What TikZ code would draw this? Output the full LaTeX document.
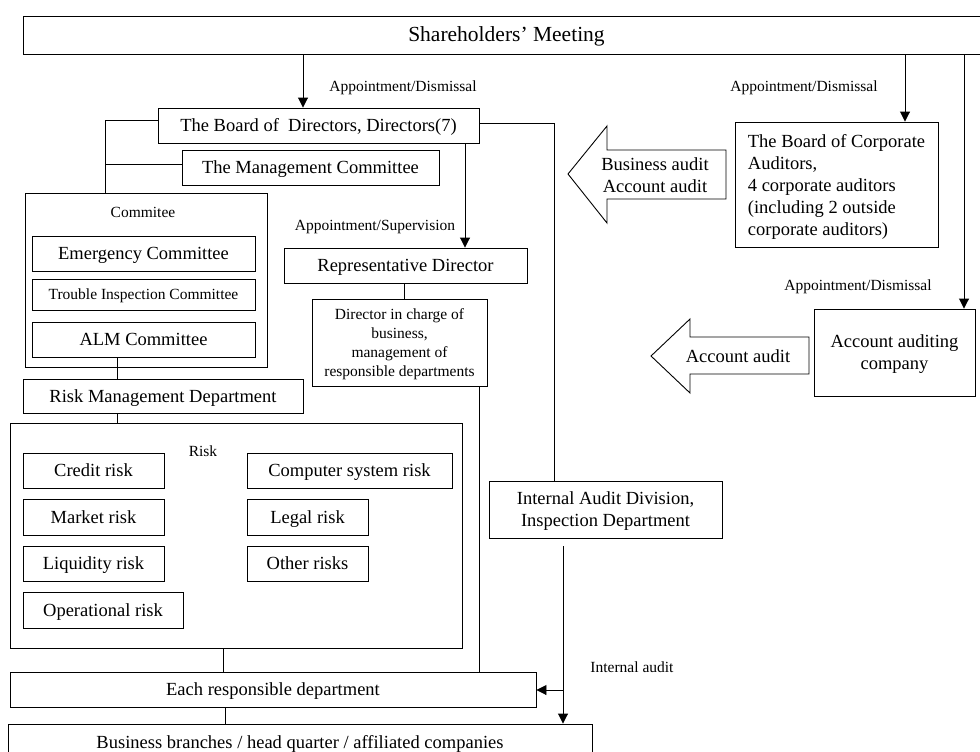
\documentclass[tikz,border=0pt]{standalone}
\usepackage{fontspec}
\setmainfont{Liberation Serif}
\usetikzlibrary{arrows.meta}
\tikzstyle{box}=[draw,rectangle,inner sep=0pt,line width=0.9pt,font=\fontsize{18.5}{22}\selectfont]
\tikzstyle{one}=[box,text height=16pt,text depth=4pt]
\tikzstyle{sbox}=[box,font=\fontsize{15.5}{18.7}\selectfont]
\tikzstyle{lbl}=[inner sep=0pt,font=\fontsize{15.5}{18.7}\selectfont]
\tikzstyle{txt}=[inner sep=0pt,align=center,font=\fontsize{18.5}{22}\selectfont]
\tikzstyle{arr}=[line width=0.9pt,-{Triangle[width=10pt,length=10pt]}]

\begin{document}
\begin{tikzpicture}[x=1pt,y=-1pt,line width=0.9pt]
    \useasboundingbox (0,0) rectangle (980,752);
    \node[one,minimum width=967,minimum height=38,font=\fontsize{21.5}{24}\selectfont,text height=19pt,text depth=5pt] (shm) at (506.5,35) {Shareholders' Meeting};
    \node[one,minimum width=321,minimum height=35] (bod) at (318.5,125.5) {The Board of~ Directors, Directors(7)};
    \node[one,minimum width=257,minimum height=35] (mgc) at (310.5,167.5) {The Management Committee};
    % committees
    \node[box,minimum width=242,minimum height=174] (cmt) at (146,280) {};
    \node[lbl] (cmtl) at (143,212) {Commitee};
    \node[one,minimum width=223,minimum height=35] (emc) at (143.5,253.5) {Emergency Committee};
    \node[sbox,minimum width=223,minimum height=31,text height=13pt,text depth=3pt] (tic) at (143.5,294.5) {Trouble Inspection Committee};
    \node[one,minimum width=223,minimum height=35] (alm) at (143.5,339.5) {ALM Committee};
    \node[one,minimum width=280,minimum height=34] (rmd) at (163,396) {Risk Management Department};
    % risks
    \node[box,minimum width=452,minimum height=225] (rsk) at (236,535.5) {};
    \node[lbl] (rskl) at (203,451) {Risk};
    \node[one,minimum width=141,minimum height=35] (crd) at (93.5,470.5) {Credit risk};
    \node[one,minimum width=141,minimum height=36] (mkt) at (93.5,517) {Market risk};
    \node[one,minimum width=141,minimum height=35] (liq) at (93.5,563.5) {Liquidity risk};
    \node[one,minimum width=160,minimum height=36] (opr) at (103,610) {Operational risk};
    \node[one,minimum width=205,minimum height=35] (css) at (349.5,470.5) {Computer system risk};
    \node[one,minimum width=121,minimum height=36] (lgl) at (307.5,517) {Legal risk};
    \node[one,minimum width=121,minimum height=35] (oth) at (307.5,563.5) {Other risks};
    % directors
    \node[one,minimum width=243,minimum height=35] (rep) at (405.5,265.5) {Representative Director};
    \node[sbox,minimum width=175,minimum height=87,align=center,text depth=0pt] (dic) at (399.5,342.5) {Director in charge of\\business,\\management of\\responsible departments};
    \node[box,minimum width=233,minimum height=57,align=center,text depth=-3.5pt] (iad) at (605.5,509.5) {Internal Audit Division,\\Inspection Department};
    \node[one,minimum width=526,minimum height=35] (erd) at (273,689.5) {Each responsible department};
    \node[one,minimum width=584,minimum height=36] (bbr) at (300,742) {Business branches / head quarter / affiliated companies};
    % auditors
    \node[box,minimum width=203,minimum height=125,align=left,text depth=0pt] (bca) at (836.5,184.5) {The Board of Corporate\\Auditors,\\4 corporate auditors\\(including 2 outside\\corporate auditors)};
    \node[box,minimum width=161,minimum height=87,align=center,text depth=-4pt] (aac) at (894.5,352.5) {Account auditing\\company};
    % labels
    \node[lbl] (l1) at (403,88) {Appointment/Dismissal};
    \node[lbl] (l2) at (804,88) {Appointment/Dismissal};
    \node[lbl] (l3) at (858,287) {Appointment/Dismissal};
    \node[lbl] (l4) at (375,227) {Appointment/Supervision};
    \node[lbl] (l5) at (632,667) {Internal audit};

    % hollow arrows
    \draw (726,150) -- (607,150) -- (607,126) -- (568,174) -- (607,223) -- (607,199) -- (726,199) -- cycle;
    \node[txt] (ba) at (655,175) {Business audit\\Account audit};
    \draw (809,337) -- (690,337) -- (690,319) -- (651,356) -- (690,393) -- (690,374) -- (809,374) -- cycle;
    \node[txt] (aa) at (738,356) {Account audit};

    % appointment arrows
    \draw[arr] (shm.south -| 303,0) -- (bod.north -| 303,0);
    \draw[arr] (shm.south -| 905,0) -- (bca.north -| 905,0);
    \draw[arr] (shm.south -| 964,0) -- (aac.north -| 964,0);
    \draw[arr] (bod.south -| 465,0) -- (rep.north -| 465,0);

    % connectors
    \draw (bod.west |- 0,120) -| (cmt.north -| 105,0);
    \draw (105,164) -- (mgc.west |- 0,164);
    \draw (alm.south -| 117,0) -- (rmd.north -| 117,0);
    \draw (rmd.south -| 117,0) -- (rsk.north -| 117,0);
    \draw (rsk.south -| 223,0) -- (erd.north -| 223,0);
    \draw (erd.south -| 225,0) -- (bbr.north -| 225,0);
    \draw (rep.south -| 404,0) -- (dic.north -| 404,0);
    \draw (dic.south -| 479,0) -- (erd.north -| 479,0);
    \draw (bod.east |- 0,123) -| (iad.north -| 554,0);

    % internal audit
    \coordinate (ia) at (563,546);
    \coordinate (ib) at (563,690);
    \draw[arr] (ia) -- (bbr.north -| ia);
    \draw[arr] (ib) -- (erd.east |- ib);
\end{tikzpicture}
\end{document}
